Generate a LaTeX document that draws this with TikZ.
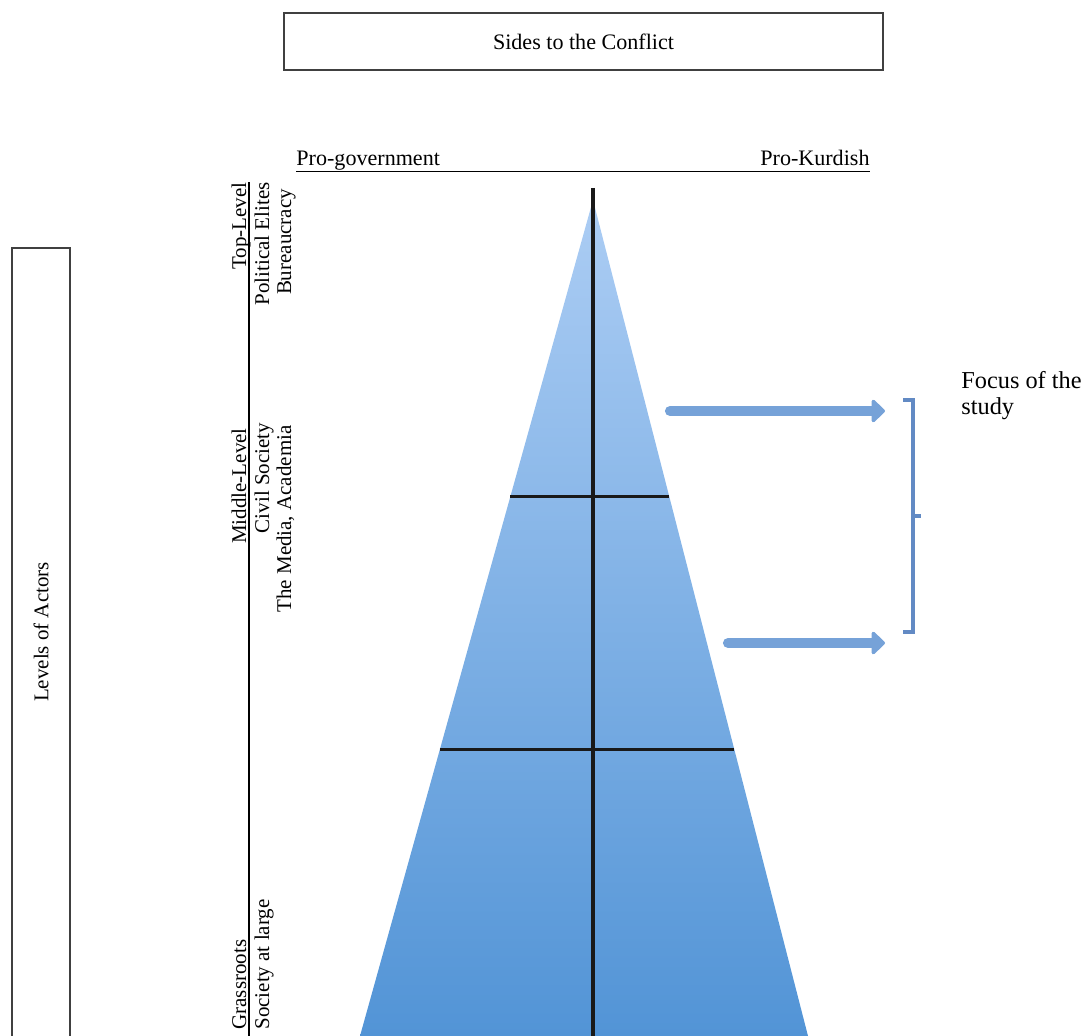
\documentclass[tikz,border=0pt]{standalone}
\usepackage{fontspec}
\setmainfont{Liberation Serif}
\usetikzlibrary{calc}
\usetikzlibrary{arrows.meta}
\usetikzlibrary{positioning}
\tikzset{sidebox/.style = {draw=black!75, line width=0.7pt}}
\tikzset{divider/.style = {line width=1.4pt, black!90}}
\tikzset{level/.style = {rotate=90, inner sep=0, anchor=base, font=\fontsize{9.5}{11}\selectfont}}
\tikzset{focusarrow/.style = {draw=arrowblue, line width=4.6pt, line cap=round,
                              -{Triangle[length=6.5pt, width=12pt, round]}}}
\tikzset{brace/.style = {draw=bracketblue, line width=1.6pt}}
\definecolor{pyrtop}{RGB}{172,205,244}
\definecolor{pyrbot}{RGB}{82,148,214}
\definecolor{arrowblue}{RGB}{118,162,216}
\definecolor{bracketblue}{RGB}{98,138,196}

\begin{document}
\begin{tikzpicture}[x=0.4528pt, y=-0.4528pt]
  \useasboundingbox (0,0) rectangle (1088,1036);

  \node [sidebox, minimum width=271.2pt, minimum height=25.8pt] (sides) at (583.5,41.5) {Sides to the Conflict};

  \node [anchor=base west, inner sep=0] (progov) at (296,166) {Pro-government};
  \node [anchor=base east, inner sep=0] (prokurd) at (870,166) {Pro-Kurdish};
  \draw [line width=0.5pt] ([yshift=-2.6pt]progov.base west) -- ([yshift=-2.6pt]prokurd.base east);

  % pyramid
  \coordinate (apex) at (593,200);
  \coordinate (bl) at (360,1036);
  \coordinate (br) at (808,1036);
  \shade [top color=pyrtop, bottom color=pyrbot] (apex) -- (br) -- (bl) -- cycle;

  \coordinate (spine) at (593,188);
  \draw [divider] (spine) -- (spine |- bl);
  \draw [divider] ($(apex)!0.355!(bl)$) -- ($(apex)!0.355!(br)$);
  \draw [divider] ($(apex)!0.657!(bl)$) -- ($(apex)!0.657!(br)$);

  % focus of the study
  \coordinate (upstart) at (670,411);
  \coordinate (upend) at (885,411);
  \coordinate (lowstart) at (728,643);
  \coordinate (lowend) at (885,643);
  \draw [focusarrow] (upstart) -- (upend);
  \draw [focusarrow] (lowstart) -- (lowend);

  \draw [brace] (903,400) -- (913,400) -- (913,632) -- (903,632);
  \draw [brace] (913,516) -- (921,516);
  \node [anchor=west, align=left, inner sep=0, font=\fontsize{11}{11.8}\selectfont] (focus) at (961,396) {Focus of the\\study};

  % levels
  \draw [sidebox] (12,1046) -- (12,248) -- (70,248) -- (70,1046);
  \node [level, anchor=center] (levels) at (41,632) {Levels of Actors};

  \node [level] (toplvl) at (246,226) {Top-Level};
  \node [level] (elites) at (269,244) {Political Elites};
  \node [level] (bureau) at (291,242) {Bureaucracy};

  \node [level] (midlvl) at (246,486) {Middle-Level};
  \node [level] (civil) at (269,478) {Civil Society};
  \node [level] (media) at (291,519) {The Media, Academia};

  \node [level, anchor=base west] (grass) at (246,1030) {Grassroots};
  \node [level, anchor=base west] (society) at (269,1030) {Society at large};

  \coordinate (uline) at ($(toplvl.base east)+(3,0)$);
  \draw [line width=0.5pt] (uline) -- (uline |- bl);
\end{tikzpicture}
\end{document}
